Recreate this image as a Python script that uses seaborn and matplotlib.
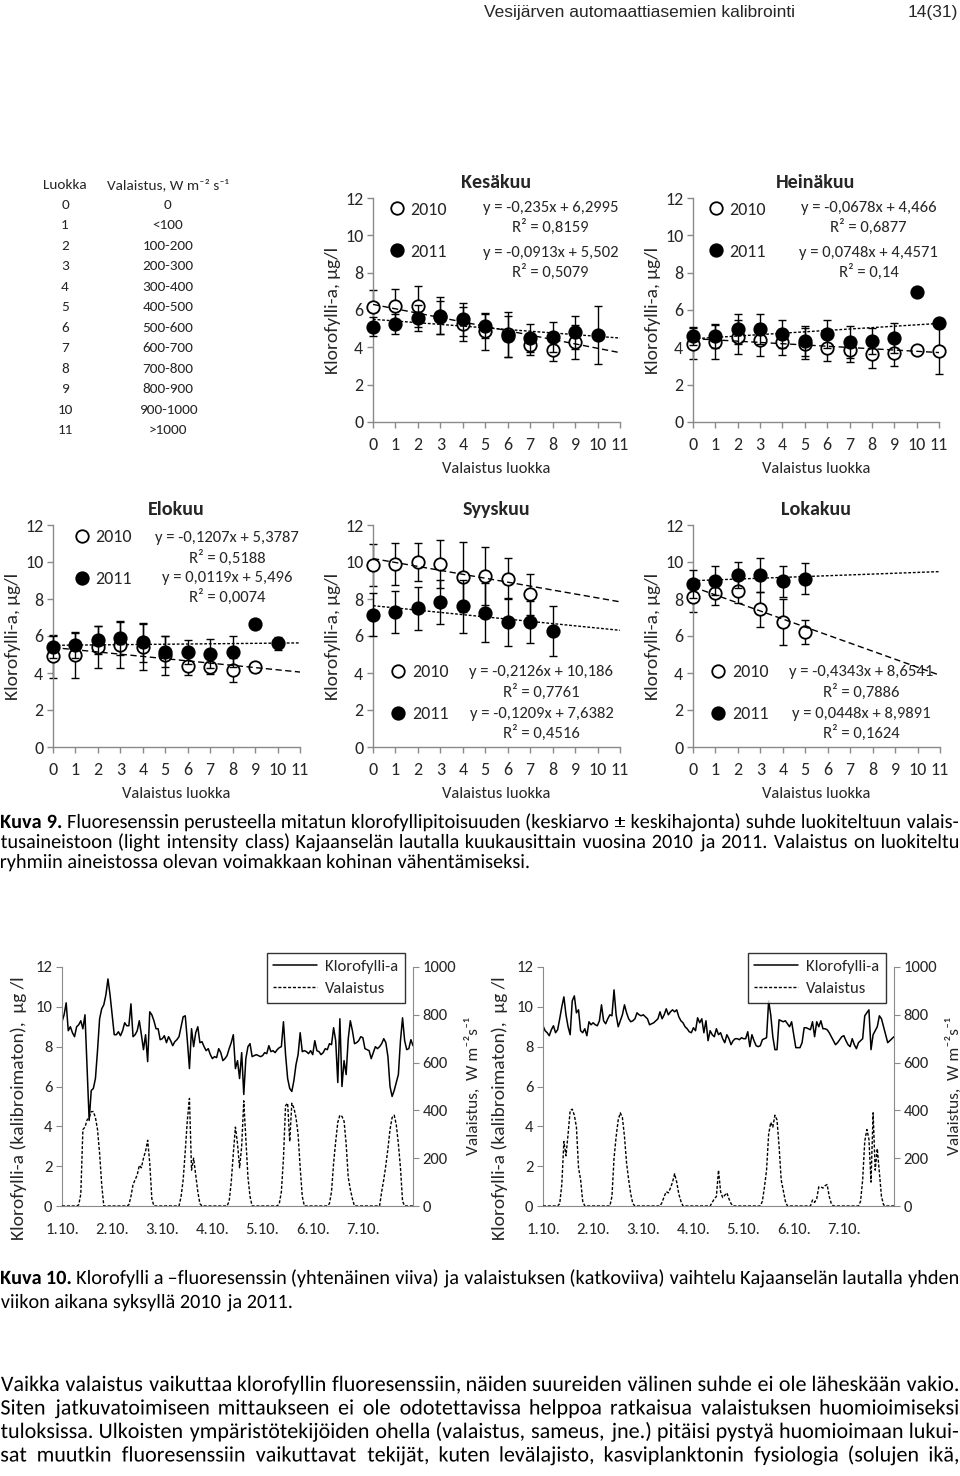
import numpy as np
import matplotlib
matplotlib.use("Agg")
import matplotlib.pyplot as plt
import matplotlib.transforms as mtransforms
import seaborn as sns
from matplotlib import font_manager
from matplotlib.font_manager import FontProperties
from matplotlib.lines import Line2D
from matplotlib.patches import PathPatch
from matplotlib.textpath import TextPath

# --- data: monthly means and sd per light class ---------------------------
classes = ["0", "<100", "100-200", "200-300", "300-400", "400-500", "500-600",
           "600-700", "700-800", "800-900", "900-1000", ">1000"]

kesa_2010 = [6.15, 6.2, 6.2, 5.7, 5.25, 4.85, 4.7, 4.15, 3.85, 4.3]
kesa_2010_sd = [0.9, 0.9, 1.1, 1.0, 0.9, 1.0, 1.2, 0.55, 0.6, 0.9]
kesa_2011 = [5.1, 5.25, 5.55, 5.6, 5.5, 5.15, 4.6, 4.5, 4.55, 4.8, 4.65]
kesa_2011_sd = [0.5, 0.55, 0.7, 0.9, 0.9, 0.65, 1.1, 0.75, 0.8, 0.9, 1.55]

heina_2010 = [4.2, 4.3, 4.55, 4.4, 4.3, 4.2, 3.95, 3.85, 3.65, 3.7, 3.85, 3.8]
heina_2010_sd = [0.85, 0.9, 0.9, 0.85, 0.7, 0.85, 0.7, 0.65, 0.75, 0.7, 0.2, 1.25]
heina_2011 = [4.6, 4.6, 5.0, 5.0, 4.7, 4.35, 4.7, 4.3, 4.35, 4.5, 6.95, 5.3]
heina_2011_sd = [0.5, 0.65, 0.8, 0.8, 0.75, 0.8, 0.75, 0.85, 0.7, 0.8, 0.0, 0.0]

elo_2010 = [4.9, 4.95, 5.4, 5.5, 5.4, 4.95, 4.4, 4.35, 4.15, 4.3]
elo_2010_sd = [1.15, 1.2, 1.15, 1.25, 1.25, 1.05, 0.5, 0.4, 0.65, 0.25]
elo_2011 = [5.4, 5.5, 5.8, 5.9, 5.65, 5.15, 5.15, 5.05, 5.15, 6.65, 5.6]
elo_2011_sd = [0.6, 0.7, 0.75, 0.9, 1.05, 0.85, 0.65, 0.8, 0.85, 0.0, 0.35]

syys_2010 = [9.85, 9.9, 10.0, 9.9, 9.2, 9.25, 9.1, 8.25]
syys_2010_sd = [1.15, 1.15, 1.05, 1.3, 1.9, 1.55, 1.1, 1.1]
syys_2011 = [7.15, 7.3, 7.5, 7.85, 7.6, 7.25, 6.75, 6.75, 6.25]
syys_2011_sd = [1.15, 1.15, 1.15, 1.2, 1.45, 1.6, 1.3, 1.15, 1.35]

loka_2010 = [8.1, 8.35, 8.45, 7.45, 6.75, 6.2]
loka_2010_sd = [0.8, 0.65, 0.65, 0.95, 1.25, 0.65]
loka_2011 = [8.8, 9.0, 9.3, 9.3, 8.95, 9.1]
loka_2011_sd = [0.75, 0.8, 0.7, 0.9, 0.85, 0.85]

# trend line coefficients (slope, intercept) and R2 as printed
fits = {
    "Kesäkuu": ((-0.235, 6.2995), "0,8159", (-0.0913, 5.502), "0,5079"),
    "Heinäkuu": ((-0.0678, 4.466), "0,6877", (0.0748, 4.4571), "0,14"),
    "Elokuu": ((-0.1207, 5.3787), "0,5188", (0.0119, 5.496), "0,0074"),
    "Syyskuu": ((-0.2126, 10.186), "0,7761", (-0.1209, 7.6382), "0,4516"),
    "Lokakuu": ((-0.4343, 8.6541), "0,7886", (0.0448, 8.9891), "0,1624"),
}

# --- data: hourly time series, 1.10. 00:00 -> 8.10. 00:00 ----------------
day_labels = ["1.10.", "2.10.", "3.10.", "4.10.", "5.10.", "6.10.", "7.10."]

chl_2010 = [
    9.25, 9.6, 10.2, 8.8, 9.0, 8.7, 8.5, 9.0, 9.1, 9.3, 8.9, 9.6, 7.0, 4.3, 5.8, 5.9, 6.4, 7.8, 9.4, 9.9, 10.1, 10.6, 11.4, 10.6,
    9.6, 8.6, 8.6, 8.75, 8.55, 8.8, 9.2, 9.05, 9.05, 10.15, 8.5, 8.6, 8.8, 9.3, 8.6, 7.85, 8.6, 7.25, 9.75, 9.6, 9.3, 8.9, 8.9, 8.35,
    8.4, 8.55, 8.2, 8.5, 8.3, 8.05, 8.25, 8.35, 8.5, 9.0, 9.5, 9.55, 8.3, 6.9, 8.9, 8.0, 8.7, 9.0, 8.2, 8.25, 8.0, 7.8, 7.9, 7.6,
    7.4, 7.5, 7.45, 7.9, 7.7, 7.3, 7.4, 7.55, 7.9, 8.2, 8.6, 6.9, 7.3, 6.4, 7.7, 5.6, 7.4, 8.0, 8.15, 7.5, 7.55, 7.6, 7.55, 7.5,
    7.55, 7.7, 7.65, 8.05, 7.75, 7.8, 7.7, 7.85, 7.95, 8.0, 9.25, 7.6, 6.4, 5.9, 5.75, 6.3, 7.1, 7.6, 8.7, 7.75, 7.8, 7.75, 7.65, 7.8,
    7.6, 8.3, 7.8, 7.75, 7.6, 7.7, 7.9, 7.85, 8.15, 8.1, 8.95, 8.3, 6.2, 9.4, 6.0, 7.3, 6.6, 8.4, 9.3, 8.8, 8.15, 8.2, 8.3, 8.5,
    8.45, 7.9, 7.85, 7.8, 7.4, 7.7, 8.0, 7.9, 8.0, 8.15, 8.4, 8.2, 7.5, 6.0, 5.5, 5.8, 6.2, 6.6, 8.3, 9.45, 8.3, 7.85, 7.9, 8.35,
    8.05,
]
light_2010 = [
    0, 0, 0, 0, 0, 0, 0, 0, 5, 50, 320, 330, 360, 370, 395, 395, 370, 320, 220, 90, 0, 0, 0, 0,
    0, 0, 0, 0, 0, 0, 0, 0, 5, 40, 90, 110, 130, 170, 160, 200, 230, 275, 180, 30, 0, 0, 0, 0,
    0, 0, 0, 0, 0, 0, 0, 0, 0, 40, 110, 230, 360, 450, 150, 200, 130, 60, 10, 0, 0, 0, 0, 0,
    0, 0, 0, 0, 0, 0, 0, 0, 20, 100, 220, 330, 260, 160, 250, 440, 280, 120, 40, 0, 0, 0, 0, 0,
    0, 0, 0, 0, 0, 0, 0, 0, 10, 60, 200, 420, 430, 270, 430, 410, 370, 300, 160, 40, 0, 0, 0, 0,
    0, 0, 0, 0, 0, 0, 0, 0, 10, 60, 180, 270, 350, 380, 375, 355, 260, 120, 70, 30, 0, 0, 0, 0,
    0, 0, 0, 0, 0, 0, 0, 0, 0, 60, 110, 170, 240, 320, 370, 380, 340, 260, 160, 20, 0, 0, 0, 0,
    0,
]
chl_2011 = [
    9.05, 8.8, 8.7, 8.55, 8.85, 9.05, 8.7, 8.85, 9.4, 10.0, 10.5, 9.6, 9.0, 8.6, 10.3, 10.55, 9.7, 9.85, 8.8, 8.7, 8.9, 8.55, 9.25, 9.1,
    9.2, 9.1, 9.05, 9.3, 10.1, 9.3, 9.15, 9.4, 9.6, 9.55, 10.85, 9.6, 9.0, 9.3, 9.6, 10.1, 9.7, 9.4, 9.25, 9.3, 9.4, 9.7, 9.6, 9.55,
    9.6, 9.5, 9.4, 9.1, 9.15, 9.2, 9.3, 9.4, 9.75, 9.4, 9.6, 9.9, 9.6, 9.75, 9.85, 9.75, 9.85, 9.5, 9.3, 9.2, 9.0, 8.9, 8.75, 8.7,
    8.95, 8.8, 9.45, 9.2, 9.4, 8.7, 9.3, 8.3, 8.8, 8.6, 8.5, 8.9, 8.6, 8.7, 8.4, 8.2, 8.6, 8.4, 8.1, 8.3, 8.4, 8.4, 8.35, 8.45,
    8.4, 8.4, 8.75, 8.0, 8.6, 8.3, 8.05, 8.0, 8.05, 8.35, 8.4, 8.45, 10.3, 9.6, 8.5, 7.85, 7.85, 9.35, 9.3, 9.25, 9.3, 9.15, 9.0, 9.25,
    8.6, 7.95, 7.95, 7.95, 8.2, 8.95, 8.95, 8.9, 8.85, 9.25, 8.5, 9.25, 9.0, 9.3, 8.9, 8.9, 8.85, 8.7, 8.5, 8.3, 8.1, 8.2, 8.35, 8.5,
    8.55, 8.3, 8.1, 8.0, 8.4, 8.1, 7.9, 8.2, 8.3, 8.4, 9.55, 9.7, 9.85, 7.85, 8.6, 8.8, 9.0, 9.55, 9.4, 9.0, 8.6, 8.2, 8.3, 8.4,
    8.5,
]
light_2011 = [
    0, 0, 0, 0, 0, 0, 0, 0, 10, 90, 270, 210, 300, 400, 405, 380, 330, 160, 110, 20, 0, 0, 0, 0,
    0, 0, 0, 0, 0, 0, 0, 0, 0, 40, 200, 290, 360, 390, 370, 290, 180, 110, 50, 10, 0, 0, 0, 0,
    0, 0, 0, 0, 0, 0, 0, 0, 0, 15, 40, 60, 55, 75, 100, 135, 100, 50, 20, 0, 0, 0, 0, 0,
    0, 0, 0, 0, 0, 0, 0, 0, 0, 15, 30, 40, 150, 60, 35, 45, 55, 30, 10, 0, 0, 0, 0, 0,
    0, 0, 0, 0, 0, 0, 0, 0, 0, 20, 80, 150, 300, 350, 330, 380, 360, 250, 110, 65, 20, 0, 0, 0,
    0, 0, 0, 0, 0, 0, 0, 0, 0, 25, 15, 30, 80, 80, 75, 85, 90, 40, 10, 0, 0, 0, 0, 0,
    0, 0, 0, 0, 0, 0, 0, 0, 20, 110, 270, 320, 280, 100, 390, 150, 240, 140, 40, 5, 0, 0, 0, 0,
    0,
]

# --- fonts ---------------------------------------------------------------
sns.set_style("white")
installed = {f.name for f in font_manager.fontManager.ttflist}
def pick(*names):
    for n in names:
        if n in installed:
            return n
    return "DejaVu Sans"
chart_font = pick("Carlito", "Lato", "Open Sans")
body_font = pick("Carlito", "Lato", "Liberation Sans Narrow")
head_font = pick("Liberation Sans", "Arimo")
plt.rcParams["font.family"] = [chart_font, "DejaVu Sans"]
plt.rcParams["axes.unicode_minus"] = False

W, H = 960, 1476
fig = plt.figure(figsize=(W / 100, H / 100), dpi=100)
GRAY = "#8a8a8a"


def add_ax(x0, y0, x1, y1):
    return fig.add_axes([x0 / W, 1 - y1 / H, (x1 - x0) / W, (y1 - y0) / H])


def style_axes(ax):
    sns.despine(ax=ax, top=True, right=True)
    for s in ("left", "bottom"):
        ax.spines[s].set_color(GRAY)
        ax.spines[s].set_linewidth(1)
    ax.tick_params(axis="both", direction="out", length=4, width=1, color=GRAY,
                   labelsize=13, pad=3, bottom=True, left=True)


def fmt(v):
    return str(v).replace(".", ",")


def month_panel(box, title, m10, s10, m11, s11, eq_x, eq_y, leg_xy):
    ax = add_ax(*box)
    style_axes(ax)
    f10, r10, f11, r11 = fits[title]
    x10 = np.arange(len(m10))
    x11 = np.arange(len(m11))
    ax.errorbar(x10, m10, yerr=s10, fmt="none", ecolor="black", elinewidth=1,
                capsize=3, capthick=1, clip_on=False, zorder=2)
    sns.scatterplot(x=x10, y=m10, ax=ax, marker="o", s=80, color="white",
                    edgecolor="black", linewidth=1.3, clip_on=False, zorder=3)
    ax.errorbar(x11, m11, yerr=s11, fmt="none", ecolor="black", elinewidth=1,
                capsize=3, capthick=1, clip_on=False, zorder=4)
    sns.scatterplot(x=x11, y=m11, ax=ax, marker="o", s=80, color="black",
                    edgecolor="black", linewidth=1.3, clip_on=False, zorder=5)
    xs = np.array([0.0, 11.0])
    ax.plot(xs, f10[0] * xs + f10[1], color="black", lw=1, dashes=(4.5, 2.5), zorder=6)
    ax.plot(xs, f11[0] * xs + f11[1], color="black", lw=1, dashes=(2, 1.3), zorder=6)
    ax.set_xlim(0, 11)
    ax.set_ylim(0, 12)
    ax.set_xticks(range(12))
    ax.set_yticks(range(0, 13, 2))
    ax.tick_params(axis="x", pad=7)
    ax.set_xlabel("Valaistus luokka", fontsize=12, labelpad=6)
    ax.set_ylabel("Klorofylli-a, µg/l", fontsize=14, labelpad=3)
    ax.set_title(title, fontsize=14.5, fontweight="bold", pad=7)
    texts = [f"y = {fmt(f10[0])}x + {fmt(f10[1])}", f"R² = {r10}",
             f"y = {fmt(f11[0])}x + {fmt(f11[1])}", f"R² = {r11}"]
    for t, yy in zip(texts, eq_y):
        ax.text(eq_x, yy, t, ha="center", va="center", fontsize=12)
    handles = [Line2D([], [], ls="none", marker="o", ms=9, mfc="white", mec="black", mew=1.3),
               Line2D([], [], ls="none", marker="o", ms=9, mfc="black", mec="black", mew=1.3)]
    ax.legend(handles, ["2010", "2011"], loc="center left", bbox_to_anchor=leg_xy,
              bbox_transform=ax.transData, frameon=False, fontsize=13,
              handlelength=0.8, handletextpad=0.35, borderpad=0, labelspacing=1.45,
              borderaxespad=0)
    return ax


top_eq = [11.45, 10.45, 9.05, 8.05]
low_eq = [4.03, 3.0, 1.8, 0.76]
month_panel((373, 198, 620, 422), "Kesäkuu", kesa_2010, kesa_2010_sd, kesa_2011, kesa_2011_sd,
            7.9, top_eq, (0.75, 10.25))
month_panel((693, 198, 939, 422), "Heinäkuu", heina_2010, heina_2010_sd, heina_2011, heina_2011_sd,
            7.85, top_eq, (0.7, 10.25))
month_panel((53, 525, 300, 747), "Elokuu", elo_2010, elo_2010_sd, elo_2011, elo_2011_sd,
            7.75, [11.28, 10.2, 9.12, 8.13], (0.95, 10.2))
month_panel((373, 525, 620, 747), "Syyskuu", syys_2010, syys_2010_sd, syys_2011, syys_2011_sd,
            7.5, low_eq, (0.8, 2.9))
month_panel((693, 525, 940, 747), "Lokakuu", loka_2010, loka_2010_sd, loka_2011, loka_2011_sd,
            7.5, low_eq, (0.8, 2.9))

# --- class table ---------------------------------------------------------
def ftext(x, y, s, **kw):
    return fig.text(x / W, 1 - y / H, s, **kw)

ftext(65, 185, "Luokka", ha="center", va="center", fontsize=11)
ftext(168, 185, "Valaistus, W m⁻² s⁻¹", ha="center", va="center", fontsize=11)
for i, c in enumerate(classes):
    ftext(65, 205 + i * 20.45, str(i), ha="center", va="center", fontsize=11)
    ftext(168, 205 + i * 20.45, c, ha="center", va="center", fontsize=11)


# --- time series panels --------------------------------------------------
def series_panel(box, chl, light):
    ax = add_ax(*box)
    hours = np.arange(len(chl))
    sns.lineplot(x=hours, y=chl, ax=ax, color="black", lw=1.1, label="Klorofylli-a", legend=False)
    ax2 = ax.twinx()
    sns.lineplot(x=hours, y=light, ax=ax2, color="black", lw=1, label="Valaistus", legend=False)
    ax2.lines[0].set_dashes((2.2, 1.3))
    ax.set_xlim(0, 168)
    ax.set_ylim(0, 12)
    ax2.set_ylim(0, 1000)
    ax.set_yticks(range(0, 13, 2))
    ax2.set_yticks(range(0, 1001, 200))
    ax.set_xticks(np.arange(0, 168, 24))
    ax.set_xticklabels(day_labels)
    for a in (ax, ax2):
        a.spines["top"].set_visible(False)
        for s in ("left", "right", "bottom"):
            a.spines[s].set_color(GRAY)
        a.tick_params(axis="both", direction="out", length=4, color=GRAY, labelsize=12, pad=3)
    ax.spines["right"].set_visible(False)
    ax2.spines["left"].set_visible(False)
    ax2.spines["bottom"].set_visible(False)
    ax.tick_params(axis="x", pad=8)
    ax.set_ylabel("Klorofylli-a (kalibroimaton),  µg /l", fontsize=14)
    ax.yaxis.set_label_coords(-0.1, 0.41)
    ax2.set_ylabel("Valaistus,  W m⁻²s⁻¹", fontsize=12.5, labelpad=6)
    h = [ax.lines[0], ax2.lines[0]]
    leg = ax.legend(h, ["Klorofylli-a", "Valaistus"], loc="upper right",
                    bbox_to_anchor=(0.977, 1.06), fontsize=12, frameon=True,
                    fancybox=False, handlelength=2.6, handletextpad=0.5, borderpad=0.4,
                    labelspacing=0.45, borderaxespad=0)
    leg.get_frame().set_edgecolor("black")
    leg.get_frame().set_linewidth(1)
    leg.set_zorder(10)
    return ax


series_panel((62, 967, 413, 1206), chl_2010, light_2010)
series_panel((543, 967, 894, 1206), chl_2011, light_2011)

# --- page text -----------------------------------------------------------
ftext(795, 13, "Vesijärven automaattiasemien kalibrointi", ha="right", va="center",
      fontsize=12.5, family=head_font)
ftext(958, 13, "14(31)", ha="right", va="center", fontsize=12.5, family=head_font)

# body text drawn as glyph paths so every word sits on the same baseline
X0, X1 = 1, 958
SPACE = 0.33
fp_reg = FontProperties(family=body_font)
fp_bold = FontProperties(family=body_font, weight="bold")


def word_path(w, size, bold):
    return TextPath((0, 0), w, size=size * 100 / 72, prop=fp_bold if bold else fp_reg)


def natural_width(line, size, bold_words):
    words = line.split(" ")
    tot = sum(word_path(w, size, i < bold_words).get_extents().width for i, w in enumerate(words))
    return tot + (len(words) - 1) * size * 100 / 72 * SPACE


def fit_size(lines, size0):
    return min(size0 * (X1 - X0) / natural_width(ln, size0, b) for ln, b, j in lines if j)


def write_block(lines, ys, size):
    for (line, bold_words, justify), y in zip(lines, ys):
        paths = [word_path(w, size, i < bold_words) for i, w in enumerate(line.split(" "))]
        exts = [p.get_extents() for p in paths]
        widths = [e.width for e in exts]
        if justify and len(paths) > 1:
            gap = (X1 - X0 - sum(widths)) / (len(paths) - 1)
        else:
            gap = size * 100 / 72 * SPACE
        x = X0
        for p, e in zip(paths, exts):
            tr = mtransforms.Affine2D().translate(x - e.x0, H - y)
            fig.add_artist(PathPatch(p, transform=tr, facecolor="black", edgecolor="none", lw=0))
            x += e.width + gap


cap9 = [("Kuva 9. Fluoresenssin perusteella mitatun klorofyllipitoisuuden (keskiarvo ± keskihajonta) suhde luokiteltuun valais-", 2, True),
        ("tusaineistoon (light intensity class) Kajaanselän lautalla kuukausittain vuosina 2010 ja 2011. Valaistus on luokiteltu", 0, True),
        ("ryhmiin aineistossa olevan voimakkaan kohinan vähentämiseksi.", 0, False)]
cap10 = [("Kuva 10. Klorofylli a –fluoresenssin (yhtenäinen viiva) ja valaistuksen (katkoviiva) vaihtelu Kajaanselän lautalla yhden", 2, True),
         ("viikon aikana syksyllä 2010 ja 2011.", 0, False)]
para = [("Vaikka valaistus vaikuttaa klorofyllin fluoresenssiin, näiden suureiden välinen suhde ei ole läheskään vakio.", 0, True),
        ("Siten jatkuvatoimiseen mittaukseen ei ole odotettavissa helppoa ratkaisua valaistuksen huomioimiseksi", 0, True),
        ("tuloksissa. Ulkoisten ympäristötekijöiden ohella (valaistus, sameus, jne.) pitäisi pystyä huomioimaan lukui-", 0, True),
        ("sat muutkin fluoresenssiin vaikuttavat tekijät, kuten levälajisto, kasviplanktonin fysiologia (solujen ikä,", 0, True)]

s_cap = fit_size(cap9 + cap10, 12)
write_block(cap9, [828, 848, 868], s_cap)
write_block(cap10, [1284, 1308], s_cap)
s_par = fit_size(para, 13)
write_block(para, [1391, 1414.5, 1438, 1461.5], s_par)

fig.savefig("out.png", dpi=100)
